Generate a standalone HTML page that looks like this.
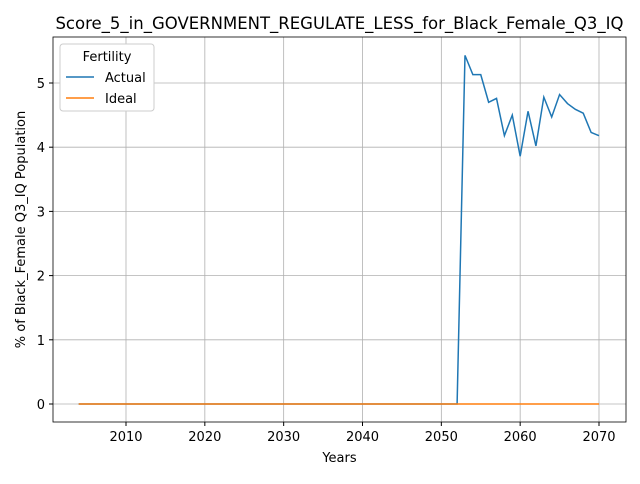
<!DOCTYPE html>
<html><head><meta charset="utf-8"><style>
body{margin:0;background:#fff;font-family:"DejaVu Sans","Liberation Sans",sans-serif}
svg text{font-family:"DejaVu Sans","Liberation Sans",sans-serif}
</style></head><body>
<svg id="c" width="640" height="480"></svg>
<script>
const years=[];for(let y=2004;y<=2070;y++)years.push(y);
const actualTail=[5.43,5.13,5.13,4.70,4.76,4.18,4.50,3.86,4.56,4.02,4.78,4.47,4.82,4.68,4.59,4.53,4.23,4.18];
const actual=years.map(y=>y<=2052?0:actualTail[y-2053]);
const ideal=years.map(y=>0);
const xTicks=[2010,2020,2030,2040,2050,2060,2070];
const yTicks=[0,1,2,3,4,5];
const L=53,R=626,T=37,B=422;
const X=v=>126+(v-2010)*(473/60);
const Y=v=>404-v*64.2;
const s=document.getElementById('c');const ns='http://www.w3.org/2000/svg';
function mk(t,a,txt){const e=document.createElementNS(ns,t);for(const k in a)e.setAttribute(k,a[k]);if(txt!==undefined)e.textContent=txt;s.appendChild(e);return e;}
xTicks.forEach(t=>{const g=mk('line',{x1:X(t),x2:X(t),y1:T,y2:B,stroke:'#b0b0b0','stroke-width':0.8});

mk('line',{x1:X(t),x2:X(t),y1:B,y2:B+4,stroke:'#000'});
const l=mk('text',{x:X(t),y:B+19,'font-size':13,'text-anchor':'middle'},t);
});
yTicks.forEach(t=>{const g=mk('line',{x1:L,x2:R,y1:Y(t),y2:Y(t),stroke:'#b0b0b0','stroke-width':0.8});

mk('line',{x1:L-4,x2:L,y1:Y(t),y2:Y(t),stroke:'#000'});
const l=mk('text',{x:L-8,y:Y(t)+5,'font-size':13,'text-anchor':'end'},t);
});
function line(vals,col,name){const p=mk('polyline',{points:years.map((y,i)=>X(y)+','+Y(vals[i])).join(' '),fill:'none',stroke:col,'stroke-width':1.5});
}
line(actual,'#1f77b4','actual-line');line(ideal,'#ff7f0e','ideal-line');
const f=mk('rect',{x:L,y:T,width:R-L,height:B-T,fill:'none',stroke:'#000','stroke-width':0.8});

const ti=mk('text',{x:(L+R)/2,y:29,'font-size':16.5,'text-anchor':'middle'},'Score_5_in_GOVERNMENT_REGULATE_LESS_for_Black_Female_Q3_IQ');

const xl=mk('text',{x:(L+R)/2,y:462,'font-size':13,'text-anchor':'middle'},'Years');

const yl=mk('text',{x:25,y:(T+B)/2,'font-size':13,'text-anchor':'middle',transform:'rotate(-90 25 '+(T+B)/2+')'},'% of Black_Female Q3_IQ Population');

const lg=mk('rect',{x:60,y:44,width:94,height:67,fill:'#fff',stroke:'#ccc',rx:3});

const lt=mk('text',{x:107,y:61,'font-size':13,'text-anchor':'middle'},'Fertility');

[['Actual','#1f77b4',82],['Ideal','#ff7f0e',103]].forEach(([n,c,y])=>{
mk('line',{x1:66,x2:94,y1:y-5,y2:y-5,stroke:c,'stroke-width':1.5});
const e=mk('text',{x:105,y:y,'font-size':13},n);
});
</script>
</body></html>
